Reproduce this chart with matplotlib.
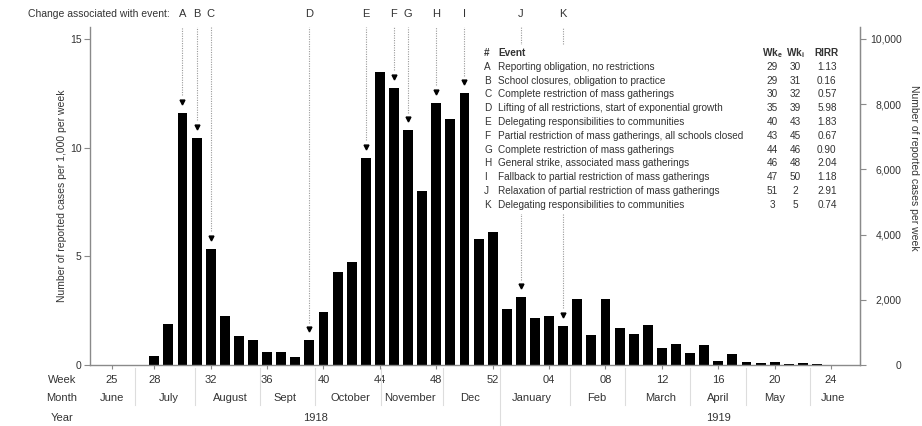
import numpy as np
import matplotlib
matplotlib.use("Agg")
import matplotlib.pyplot as plt
import matplotlib.transforms as mtransforms
from matplotlib.patches import Rectangle

plt.rcParams["font.family"] = ["Liberation Sans", "DejaVu Sans"]
plt.rcParams["mathtext.fontset"] = "custom"
plt.rcParams["mathtext.rm"] = "Liberation Sans"
plt.rcParams["mathtext.bf"] = "Liberation Sans:bold"

# Weekly reported cases per 1,000 (week 25 of 1918 to week 25 of 1919)
WEEKS_1918 = list(range(25, 53))
WEEKS_1919 = list(range(1, 26))
RATE = [0, 0, 0, 0.4, 1.9, 11.6, 10.45, 5.35, 2.25, 1.33, 1.15, 0.6, 0.6, 0.37,
        1.15, 2.43, 4.28, 4.74, 9.53, 13.48, 12.75, 10.81, 8.0, 12.06, 11.32,
        12.5, 5.8, 6.1,
        2.58, 3.13, 2.16, 2.25, 1.8, 3.04, 1.38, 3.04, 1.7, 1.43, 1.84, 0.78,
        0.97, 0.55, 0.92, 0.2, 0.5, 0.12, 0.1, 0.12, 0.06, 0.08, 0.03, 0.02, 0.02]

CASES_PER_UNIT = 10000 / 15.0  # right axis scale (cases per week per 1/1,000)

# Events
EV_LETTERS = ["A", "B", "C", "D", "E", "F", "G", "H", "I", "J", "K"]
EV_TEXT = [
    "Reporting obligation, no restrictions",
    "School closures, obligation to practice",
    "Complete restriction of mass gatherings",
    "Lifting of all restrictions, start of exponential growth",
    "Delegating responsibilities to communities",
    "Partial restriction of mass gatherings, all schools closed",
    "Complete restriction of mass gatherings",
    "General strike, associated mass gatherings",
    "Fallback to partial restriction of mass gatherings",
    "Relaxation of partial restriction of mass gatherings",
    "Delegating responsibilities to communities",
]
WK_E = [29, 29, 30, 35, 40, 43, 44, 46, 47, 51, 3]
WK_I = [30, 31, 32, 39, 43, 45, 46, 48, 50, 2, 5]
RIRR = ["1.13", "0.16", "0.57", "5.98", "1.83", "0.67", "0.90", "2.04", "1.18", "2.91", "0.74"]

# Axis annotation rows
TICK_WEEKS = ["25", "28", "32", "36", "40", "44", "48", "52", "04", "08", "12", "16", "20", "24"]
TICK_POS = [0, 3, 7, 11, 15, 19, 23, 27, 31, 35, 39, 43, 47, 51]
MONTHS = ["June", "July", "August", "Sept", "October", "November", "Dec",
          "January", "Feb", "March", "April", "May", "June"]
MONTH_POS = [0, 4.0, 8.4, 12.3, 16.9, 21.1, 25.4, 29.8, 34.4, 38.9, 43.0, 47.0, 51.1]
MONTH_SEPS = [1.6, 5.9, 10.5, 14.4, 19.1, 23.5, 32.5, 36.4, 41.0, 45.0, 49.5]
YEAR_SEP = 27.5
YEARS = ["1918", "1919"]
YEAR_POS = [14.4, 43.0]


def week_index(wk):
    return wk - 25 if wk >= 25 else wk + 27


TXT = "#333333"
SPINE = "#8a8a8a"
TFS = 7.2  # table font size

fig = plt.figure(figsize=(9.22, 4.26), dpi=100)
ax = fig.add_axes([90 / 922, 1 - 365 / 426, 770 / 922, 338 / 426])

x = np.arange(len(RATE))
ax.bar(x, RATE, width=0.7, color="black", zorder=2)
ax.set_xlim(-1.56, 53.05)
ax.set_ylim(0, 15.55)

ax.spines["top"].set_visible(False)
for side in ["left", "right", "bottom"]:
    ax.spines[side].set_color(SPINE)
    ax.spines[side].set_linewidth(1.0)

ax.set_yticks([0, 5, 10, 15])
ax.tick_params(axis="y", colors=SPINE, labelcolor=TXT, labelsize=7.5, length=4, pad=2)
ax.set_xticks(TICK_POS)
ax.set_xticklabels(TICK_WEEKS)
ax.tick_params(axis="x", colors=SPINE, labelcolor=TXT, labelsize=8, length=3, pad=4)
ax.set_ylabel("Number of reported cases per 1,000 per week", fontsize=7.5, color=TXT)
ax.yaxis.set_label_coords(-0.03, 0.5)

# right axis: absolute cases per week
ax2 = ax.twinx()
ax2.set_ylim(0, 15.55 * CASES_PER_UNIT)
ax2.set_yticks(np.arange(0, 10001, 2000))
ax2.set_yticklabels([f"{v:,}" for v in range(0, 10001, 2000)])
for side in ["top", "left", "bottom"]:
    ax2.spines[side].set_visible(False)
ax2.spines["right"].set_color(SPINE)
ax2.tick_params(axis="y", colors=SPINE, labelcolor=TXT, labelsize=7.5, length=4, pad=26)
for lab in ax2.get_yticklabels():
    lab.set_horizontalalignment("right")
fig.text(914 / 922, 1 - 85 / 426, "Number of reported cases per week", rotation=270,
         ha="center", va="top", fontsize=7.5, color=TXT)

# event markers and dotted guide lines
trans_top = mtransforms.blended_transform_factory(ax.transData, ax.transAxes)
for letter, wk in zip(EV_LETTERS, WK_I):
    i = week_index(wk)
    tip = RATE[i] + 0.5
    ax.plot(i, tip, marker="v", color="black", markersize=3.5, zorder=3)
    ax.plot([i, i], [tip + 0.3, 15.55], ls=(0, (1, 1.2)), color="#9a9a9a", lw=0.8,
            zorder=1, clip_on=False)
    ax.text(i, 1.038, letter, transform=trans_top, ha="center", va="center",
            fontsize=8, color=TXT, clip_on=False)
fig.text(170 / 922, 1 - 14 / 426, "Change associated with event:", ha="right", va="center",
         fontsize=7.5, color=TXT)

# event table
ax.add_patch(Rectangle((0.504, 0.447), 0.477, 0.5, transform=ax.transAxes,
                       facecolor="white", edgecolor="none", zorder=4))
ty0, dy = 0.923, 0.0408
ax.text(0.5117, ty0, "#", transform=ax.transAxes, fontsize=TFS, fontweight="bold",
        color=TXT, va="center", zorder=5)
ax.text(0.530, ty0, "Event", transform=ax.transAxes, fontsize=TFS, fontweight="bold",
        color=TXT, va="center", zorder=5)
for hx, hs in [(0.886, r"Wk$_\mathbf{e}$"), (0.9156, r"Wk$_\mathbf{i}$"), (0.957, "RIRR")]:
    ax.text(hx, ty0, hs, transform=ax.transAxes, fontsize=TFS, fontweight="bold",
            color=TXT, ha="center", va="center", zorder=5)
for r, (letter, desc, we, wi, rr) in enumerate(zip(EV_LETTERS, EV_TEXT, WK_E, WK_I, RIRR)):
    ty = ty0 - dy * (r + 1)
    ax.text(0.5117, ty, letter, transform=ax.transAxes, fontsize=TFS, color=TXT,
            va="center", zorder=5)
    ax.text(0.530, ty, desc, transform=ax.transAxes, fontsize=TFS, color=TXT,
            va="center", zorder=5)
    ax.text(0.886, ty, str(we), transform=ax.transAxes, fontsize=TFS, color=TXT,
            ha="center", va="center", zorder=5)
    ax.text(0.9156, ty, str(wi), transform=ax.transAxes, fontsize=TFS, color=TXT,
            ha="center", va="center", zorder=5)
    ax.text(0.957, ty, rr, transform=ax.transAxes, fontsize=TFS, color=TXT,
            ha="center", va="center", zorder=5)

# month / year rows under the axis
y_month = (365 - 398) / 338
y_year = (365 - 418) / 338
for name, pos in zip(MONTHS, MONTH_POS):
    ax.text(pos, y_month, name, transform=trans_top, ha="center", va="center",
            fontsize=8, color=TXT, clip_on=False)
for name, pos in zip(YEARS, YEAR_POS):
    ax.text(pos, y_year, name, transform=trans_top, ha="center", va="center",
            fontsize=8, color=TXT, clip_on=False)
for s in MONTH_SEPS:
    ax.plot([s, s], [-0.009, -0.118], transform=trans_top, color="#dddddd", lw=0.8,
            clip_on=False)
ax.plot([YEAR_SEP, YEAR_SEP], [-0.009, -0.18], transform=trans_top, color="#dddddd",
        lw=0.8, clip_on=False)

for label, py in [("Week", 380), ("Month", 398), ("Year", 418)]:
    fig.text(62 / 922, 1 - py / 426, label, ha="center", va="center", fontsize=8, color=TXT)

fig.savefig("out.png", dpi=100)
